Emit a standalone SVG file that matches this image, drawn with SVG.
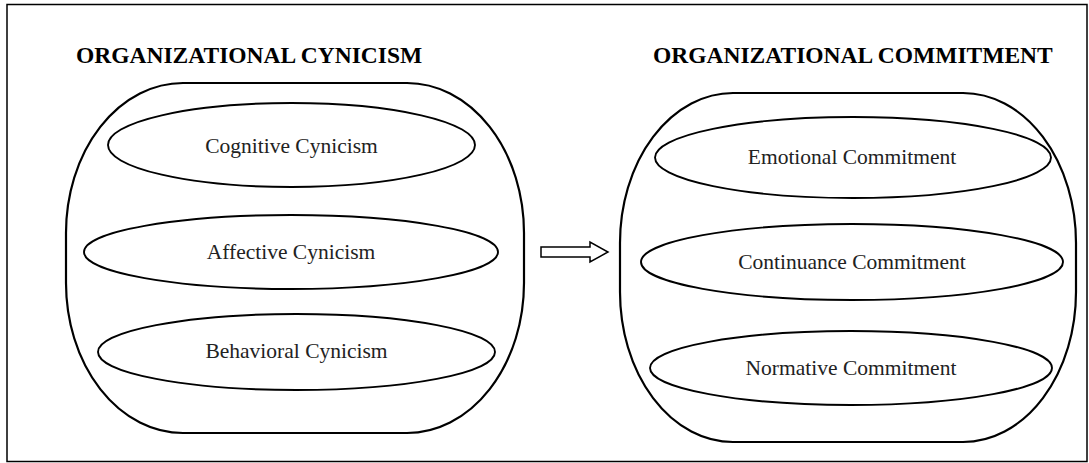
<svg xmlns="http://www.w3.org/2000/svg" width="1089" height="463" viewBox="0 0 1089 463">
<style>
.frame{fill:#fff;stroke:#000;stroke-width:1.5}
.grp{fill:none;stroke:#000;stroke-width:2.2}
.ell{fill:none;stroke:#000;stroke-width:1.9}
.title{font-family:"Liberation Serif","Times New Roman",serif;font-weight:bold;font-size:23.5px;fill:#000}
.lbl{font-family:"Liberation Serif","Times New Roman",serif;font-size:21.5px;fill:#222;text-anchor:middle}
.arrow{fill:#fff;stroke:#000;stroke-width:1.5;stroke-linejoin:miter}
</style>
<rect class="frame" x="7" y="4.5" width="1080" height="457"/>
<g id="cynicism">
<text class="title" x="76" y="63">ORGANIZATIONAL CYNICISM</text>
<rect class="grp" x="66" y="83" width="458" height="350" rx="117" ry="150"/>
<g id="cognitive"><ellipse class="ell" cx="291.5" cy="145" rx="183.5" ry="42"/><text class="lbl" x="291.5" y="153">Cognitive Cynicism</text></g>
<g id="affective"><ellipse class="ell" cx="291" cy="252" rx="207" ry="37"/><text class="lbl" x="291" y="259">Affective Cynicism</text></g>
<g id="behavioral"><ellipse class="ell" cx="296.5" cy="352" rx="198.5" ry="38"/><text class="lbl" x="296.5" y="358">Behavioral Cynicism</text></g>
</g>
<g id="commitment">
<text class="title" x="653" y="63">ORGANIZATIONAL COMMITMENT</text>
<rect class="grp" x="620" y="93" width="456" height="349" rx="113" ry="150"/>
<g id="emotional"><ellipse class="ell" cx="853" cy="157.5" rx="198" ry="40.5"/><text class="lbl" x="852" y="164">Emotional Commitment</text></g>
<g id="continuance"><ellipse class="ell" cx="852" cy="262" rx="211" ry="38"/><text class="lbl" x="852" y="269">Continuance Commitment</text></g>
<g id="normative"><ellipse class="ell" cx="851" cy="368" rx="201" ry="37"/><text class="lbl" x="851" y="375">Normative Commitment</text></g>
</g>
<g id="connectors">
<polygon class="arrow" points="541,247 590,247 590,242 608,252 590,262 590,257 541,257"/>
</g>
</svg>
